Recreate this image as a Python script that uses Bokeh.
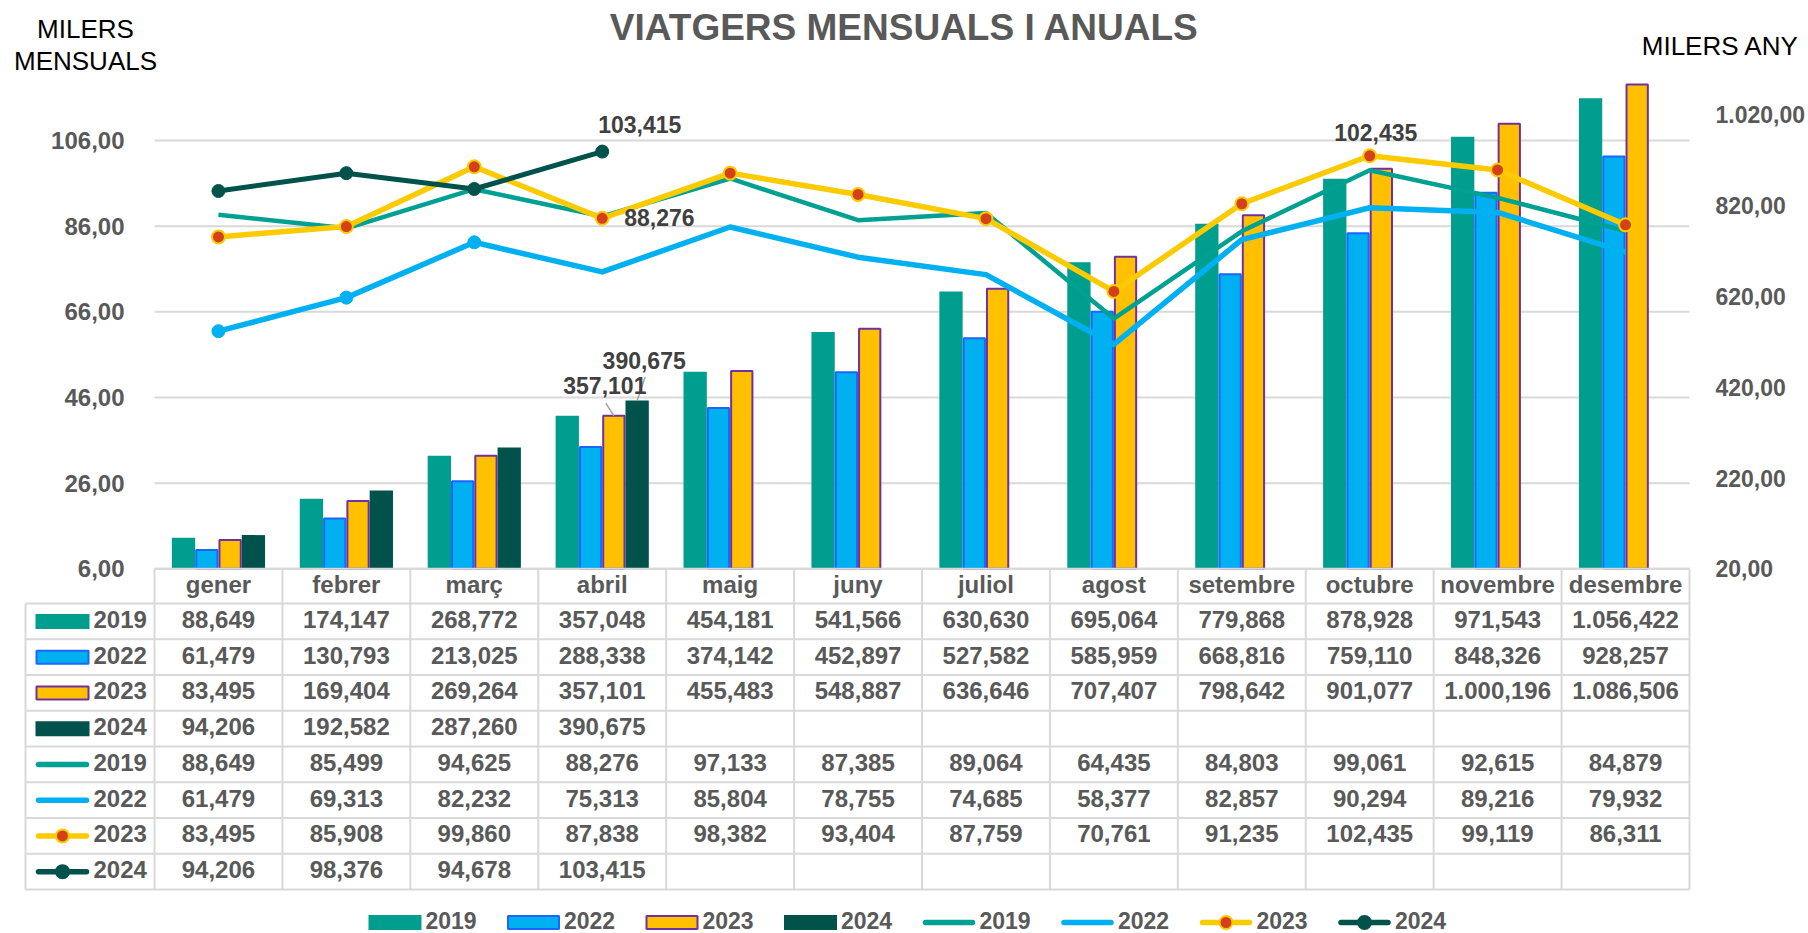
from bokeh.plotting import figure
from bokeh.models import Range1d, LinearAxis, FixedTicker
from bokeh.core.properties import value
from bokeh.embed import file_html
from bokeh.resources import INLINE

# ---------------- data (thousands of travellers) ----------------
months = ["gener", "febrer", "març", "abril", "maig", "juny", "juliol",
          "agost", "setembre", "octubre", "novembre", "desembre"]
years = ["2019", "2022", "2023", "2024"]

acum_2019 = [88.649, 174.147, 268.772, 357.048, 454.181, 541.566, 630.630,
             695.064, 779.868, 878.928, 971.543, 1056.422]
acum_2022 = [61.479, 130.793, 213.025, 288.338, 374.142, 452.897, 527.582,
             585.959, 668.816, 759.110, 848.326, 928.257]
acum_2023 = [83.495, 169.404, 269.264, 357.101, 455.483, 548.887, 636.646,
             707.407, 798.642, 901.077, 1000.196, 1086.506]
acum_2024 = [94.206, 192.582, 287.260, 390.675]

mens_2019 = [88.649, 85.499, 94.625, 88.276, 97.133, 87.385, 89.064,
             64.435, 84.803, 99.061, 92.615, 84.879]
mens_2022 = [61.479, 69.313, 82.232, 75.313, 85.804, 78.755, 74.685,
             58.377, 82.857, 90.294, 89.216, 79.932]
mens_2023 = [83.495, 85.908, 99.860, 87.838, 98.382, 93.404, 87.759,
             70.761, 91.235, 102.435, 99.119, 86.311]
mens_2024 = [94.206, 98.376, 94.678, 103.415]

left_ticks = [6, 26, 46, 66, 86, 106]
right_ticks = [20, 220, 420, 620, 820, 1020]

title_text = "VIATGERS MENSUALS I ANUALS"
left_title = ["MILERS", "MENSUALS"]
right_title = "MILERS ANY"

# ---------------- styles ----------------
C_2019 = "#009E8F"
C_2022 = "#00B0F0"
C_2022_EDGE = "#1A66FF"
C_2023 = "#FFC000"
C_2023_EDGE = "#7030A0"
C_2024 = "#00524B"
C_L2019 = "#00A093"
C_L2023 = "#FACB00"
C_L2023_MK = "#D4401A"
GRAY_TXT = "#595959"
GRID = "#D9D9D9"
FONT = value("Liberation Sans")

def fmt(v, d):
    s = f"{v:,.{d}f}"
    return s.replace(",", "#").replace(".", ",").replace("#", ".")

# ---------------- geometry ----------------
W, H = 1808, 933
FX0, FX1 = 154.0, 1689.0          # screen x of plot left/right
CW = (FX1 - FX0) / 12.0           # px per category
Y_BASE = 568.3                    # screen y of axis minimum
L_PX = 4.283                      # px per left unit
R_PX = 0.454                      # px per right unit
BW = 23.3 / CW                    # bar width (category units)

p = figure(width=W, height=H, output_backend="svg", toolbar_location=None, tools="",
           x_axis_type=None, y_axis_type=None, min_border=0,
           x_range=Range1d(-FX0 / CW, (W - FX0) / CW),
           y_range=Range1d(6 - (H - Y_BASE) / L_PX, 6 + Y_BASE / L_PX),
           outline_line_color=None, background_fill_color="white",
           border_fill_color="white")
p.extra_y_ranges = {"right": Range1d(20 - (H - Y_BASE) / R_PX, 20 + Y_BASE / R_PX),
                    "py": Range1d(H, 0)}
p.extra_x_ranges = {"px": Range1d(0, W)}

# gridlines (left axis ticks)
p.segment(x0=[0] * len(left_ticks), x1=[12] * len(left_ticks),
          y0=left_ticks, y1=left_ticks, line_color=GRID, line_width=2)

# ---------------- bars (right axis) ----------------
bar_specs = [(acum_2019, C_2019, None, -1.5), (acum_2022, C_2022, C_2022_EDGE, -0.5),
             (acum_2023, C_2023, C_2023_EDGE, 0.5), (acum_2024, C_2024, None, 1.5)]
for vals, fill, edge, k in bar_specs:
    xs = [i + 0.5 + k * BW for i in range(len(vals))]
    if edge is None:
        p.vbar(x=xs, top=vals, bottom=20, width=BW, fill_color=fill, line_color=None,
               y_range_name="right")
    else:
        p.vbar(x=xs, top=vals, bottom=20, width=BW - 2 / CW, fill_color=fill,
               line_color=edge, line_width=2, y_range_name="right")

# ---------------- lines (left axis) ----------------
def xs_of(vals):
    return [i + 0.5 for i in range(len(vals))]

p.line(xs_of(mens_2019), mens_2019, line_color=C_L2019, line_width=4.5, line_join="round")
p.line(xs_of(mens_2022), mens_2022, line_color=C_2022, line_width=5.5, line_join="round")
mk22 = [0, 1, 2]
p.scatter([i + 0.5 for i in mk22], [mens_2022[i] for i in mk22], size=13,
          fill_color=C_2022, line_color=C_2022)
p.line(xs_of(mens_2023), mens_2023, line_color=C_L2023, line_width=5.5, line_join="round")
p.scatter(xs_of(mens_2023), mens_2023, size=13, fill_color=C_L2023_MK,
          line_color=C_L2023, line_width=2)
p.line(xs_of(mens_2024), mens_2024, line_color=C_2024, line_width=5, line_join="round")
p.scatter(xs_of(mens_2024), mens_2024, size=13, fill_color=C_2024, line_color=C_2024)

# ---------------- data labels ----------------
lbl = dict(text_font=FONT, text_font_style="bold", text_font_size=value("23px"),
           text_color="#404040", text_baseline="middle")
p.text(x=[3.5], y=[mens_2024[3]], text=[fmt(mens_2024[3], 3)], text_align="left",
       x_offset=-4, y_offset=-27, **lbl)
p.text(x=[3.5], y=[mens_2019[3]], text=[fmt(mens_2019[3], 3)], text_align="left",
       x_offset=22, y_offset=1, **lbl)
p.text(x=[9.5], y=[mens_2023[9]], text=[fmt(mens_2023[9], 3)], text_align="center",
       x_offset=6, y_offset=-23, **lbl)
# bar labels with leader lines
x23 = 3.5 + 0.5 * BW
x24 = 3.5 + 1.5 * BW
p.segment(x0=[x23, x24], y0=[acum_2023[3], acum_2024[3]],
          x1=[x23 - 8 / CW, x24 + 8 / CW], y1=[acum_2023[3] + 12.5 / R_PX, acum_2024[3] + 23.5 / R_PX],
          line_color="#A6A6A6", line_width=1.5, y_range_name="right")
p.text(x=[x23], y=[acum_2023[3]], text=[fmt(acum_2023[3], 3)], text_align="center",
       x_offset=-9, y_offset=-30, y_range_name="right", **lbl)
p.text(x=[x24], y=[acum_2024[3]], text=[fmt(acum_2024[3], 3)], text_align="center",
       x_offset=7, y_offset=-40, y_range_name="right", **lbl)

# ---------------- axes ----------------
ax_style = dict(axis_line_color=None, major_tick_line_color=None, minor_tick_line_color=None,
                major_label_text_font="Liberation Sans", major_label_text_font_style="bold",
                major_label_text_color=GRAY_TXT)
la = LinearAxis(ticker=FixedTicker(ticks=left_ticks),
                major_label_overrides={t: fmt(t, 2) for t in left_ticks},
                fixed_location=0, major_label_standoff=24,
                major_label_text_font_size="24px", **ax_style)
p.add_layout(la, "left")
ra = LinearAxis(y_range_name="right", ticker=FixedTicker(ticks=right_ticks),
                major_label_overrides={t: fmt(t, 2) for t in right_ticks},
                fixed_location=12, major_label_standoff=20,
                major_label_text_font_size="23px", **ax_style)
p.add_layout(ra, "right")
month_ticks = [i + 0.5 for i in range(12)]
ma = LinearAxis(ticker=FixedTicker(ticks=month_ticks),
                major_label_overrides={t: m for t, m in zip(month_ticks, months)},
                fixed_location=6 + 8 / L_PX, major_label_standoff=4,
                major_label_text_font_size="24px", **ax_style)
p.add_layout(ma, "below")

# ---------------- titles ----------------
p.text(x=[904], y=[27], text=[title_text], text_font=FONT, text_font_style="bold",
       text_font_size=value("37px"), text_color=GRAY_TXT, text_align="center",
       text_baseline="middle", x_range_name="px", y_range_name="py")
p.text(x=[85, 85], y=[28, 60], text=left_title, text_font=FONT,
       text_font_size=value("26px"), text_color="black", text_align="center",
       text_baseline="middle", x_range_name="px", y_range_name="py")
p.text(x=[1720], y=[45], text=[right_title], text_font=FONT,
       text_font_size=value("26px"), text_color="black", text_align="center",
       text_baseline="middle", x_range_name="px", y_range_name="py")

# ---------------- data table ----------------
T_HEAD = 603.0
ROW_H = 35.75
N_ROWS = 8
T_BOT = T_HEAD + ROW_H * N_ROWS
T_LEFT = 25.0
# horizontal borders
hy = [Y_BASE] + [T_HEAD + ROW_H * r for r in range(N_ROWS + 1)]
hx0 = [FX0] + [T_LEFT] * (N_ROWS + 1)
p.segment(x0=hx0, x1=[FX1] * len(hy), y0=hy, y1=hy, line_color=GRID, line_width=2,
          x_range_name="px", y_range_name="py")
# vertical borders
p.segment(x0=list(range(13)), x1=list(range(13)), y0=[Y_BASE] * 13, y1=[T_BOT] * 13,
          line_color=GRID, line_width=2, y_range_name="py")
p.segment(x0=[T_LEFT], x1=[T_LEFT], y0=[T_HEAD], y1=[T_BOT], line_color=GRID,
          line_width=2, x_range_name="px", y_range_name="py")

row_vals = [acum_2019, acum_2022, acum_2023, acum_2024,
            mens_2019, mens_2022, mens_2023, mens_2024]
cell = dict(text_font=FONT, text_font_style="bold", text_font_size=value("24px"),
            text_color=GRAY_TXT, text_align="center", text_baseline="middle",
            y_range_name="py")
for r, vals in enumerate(row_vals):
    yc = T_HEAD + ROW_H * (r + 0.5) - 2
    p.text(x=xs_of(vals), y=[yc] * len(vals), text=[fmt(v, 3) for v in vals], **cell)

# ---------------- legend keys (table column + bottom legend) ----------------
bar_keys = [(C_2019, None), (C_2022, C_2022_EDGE), (C_2023, C_2023_EDGE), (C_2024, None)]
line_keys = [(C_L2019, None, None), (C_2022, None, None),
             (C_L2023, C_L2023_MK, C_L2023), (C_2024, C_2024, C_2024)]


def ytxt(size):
    return dict(text_font=FONT, text_font_style="bold", text_font_size=value(size),
                text_color=GRAY_TXT, text_align="left", text_baseline="middle",
                x_range_name="px", y_range_name="py")


def draw_key(kind, idx, cx, cy, wdt):
    if kind == "bar":
        fill, edge = bar_keys[idx]
        if edge is None:
            p.quad(left=[cx - wdt / 2], right=[cx + wdt / 2], top=[cy - 7.5], bottom=[cy + 7.5],
                   fill_color=fill, line_color=None, x_range_name="px", y_range_name="py")
        else:
            p.quad(left=[cx - wdt / 2 + 1], right=[cx + wdt / 2 - 1], top=[cy - 6.5],
                   bottom=[cy + 6.5], fill_color=fill, line_color=edge, line_width=2,
                   x_range_name="px", y_range_name="py")
    else:
        col, mfill, medge = line_keys[idx]
        p.segment(x0=[cx - wdt / 2 + 3], x1=[cx + wdt / 2 - 3], y0=[cy], y1=[cy],
                  line_color=col, line_width=5.5, line_cap="round",
                  x_range_name="px", y_range_name="py")
        if mfill is not None:
            p.scatter([cx], [cy], size=13, fill_color=mfill, line_color=medge,
                      line_width=2, x_range_name="px", y_range_name="py")


# table row headers
for r in range(N_ROWS):
    yc = T_HEAD + ROW_H * (r + 0.5)
    kind = "bar" if r < 4 else "line"
    draw_key(kind, r % 4, 62, yc, 54)
    p.text(x=[93], y=[yc - 2], text=[years[r % 4]], **ytxt("24px"))

# bottom legend
LEG_X0 = 368.0
LEG_STEP = 138.5
LEG_Y = 920.0
for k in range(8):
    kx = LEG_X0 + LEG_STEP * k
    kind = "bar" if k < 4 else "line"
    draw_key(kind, k % 4, kx + 26.5, LEG_Y + 2, 53)
    p.text(x=[kx + 57], y=[LEG_Y], text=[years[k % 4]], **ytxt("23px"))

open("out.html", "w").write(file_html(p, INLINE))
